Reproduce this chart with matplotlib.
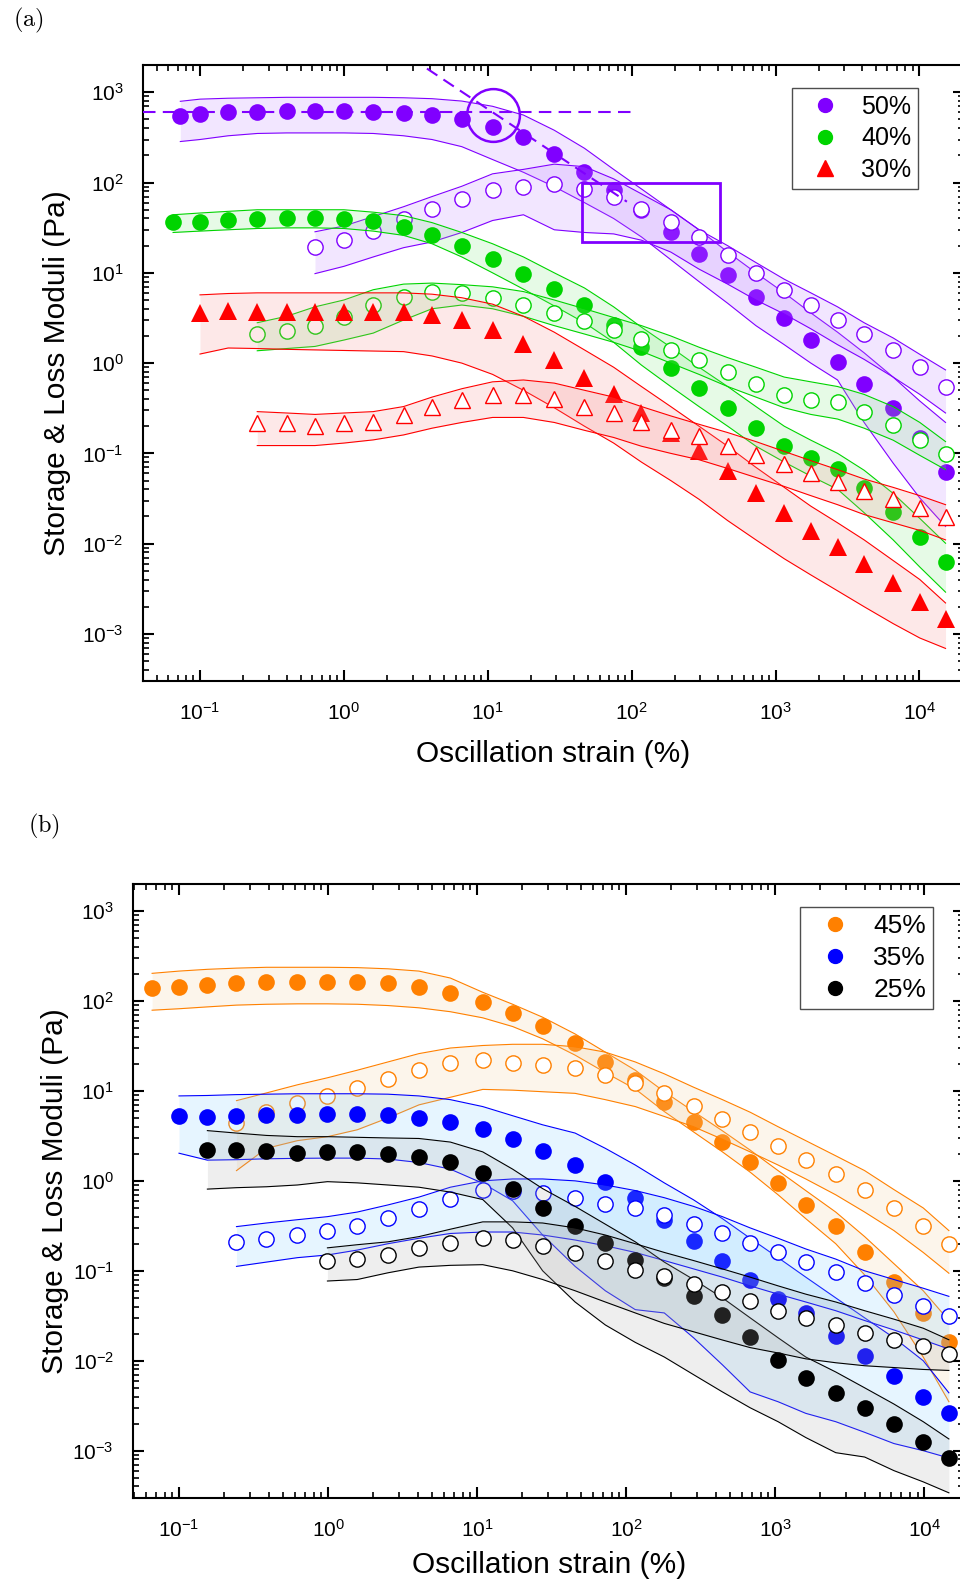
import numpy as np
import matplotlib
matplotlib.use('Agg')
import matplotlib.pyplot as plt
from matplotlib.ticker import LogLocator, FixedLocator, FuncFormatter, NullFormatter
from matplotlib.patches import Rectangle
from matplotlib.lines import Line2D

plt.rcParams['font.family'] = ['Liberation Sans', 'DejaVu Sans']
plt.rcParams['mathtext.fontset'] = 'custom'
plt.rcParams['mathtext.rm'] = 'Liberation Sans'
plt.rcParams['mathtext.it'] = 'Liberation Sans:italic'
plt.rcParams['mathtext.bf'] = 'Liberation Sans:bold'
plt.rcParams['mathtext.default'] = 'regular'

# ---- panel (a) data: strain grid (%) and moduli (Pa) ----
strain_a = [0.073, 0.1, 0.157, 0.25, 0.4, 0.63, 1.0, 1.6, 2.6, 4.1, 6.6, 10.8, 17.7, 29, 47, 75,
            117, 187, 294, 465, 731, 1150, 1760, 2700, 4130, 6570, 10070, 15200]
strain_a_40 = [0.065] + strain_a[1:]

g1_50 = [542, 576, 600, 606, 615, 615, 615, 606, 585, 556, 507, 413, 317, 209, 132, 81.8, 49.1,
         28.0, 16.3, 9.46, 5.39, 3.12, 1.81, 1.02, 0.59, 0.317, 0.147, 0.062]
g1_50_hi = [795, 840, 860, 870, 880, 880, 880, 880, 870, 850, 800, 700, 560, 380, 240, 140, 85,
            50, 30, 17, 10, 6.0, 3.6, 2.2, 1.3, 0.7, 0.38, 0.22]
g1_50_lo = [285, 300, 330, 350, 355, 355, 355, 350, 330, 300, 250, 180, 130, 90, 60, 40, 25,
            14, 8, 4.6, 2.6, 1.6, 1.0, 0.65, 0.22, 0.078, 0.032, 0.0155]
g2_50 = [19.3, 22.9, 28.8, 39.5, 51.4, 66.3, 82.0, 89.4, 96.4, 85.5, 68.5, 51.4, 36.6, 24.7,
         15.7, 9.95, 6.50, 4.40, 3.04, 2.11, 1.41, 0.894, 0.550]
g2_50_hi = [28.5, 33, 42, 54, 70, 91, 125, 140, 160, 150, 110, 75, 50, 30, 20, 13, 8.5, 6.0,
            4.2, 2.8, 1.9, 1.25, 0.84]
g2_50_lo = [9.8, 11.8, 15, 19, 22, 28, 38, 44, 30, 28, 27, 23, 17, 11, 7.5, 5.0, 3.5, 2.4, 1.6,
            1.1, 0.7, 0.45, 0.28]

g1_40 = [36.6, 36.6, 38.1, 39.5, 40.5, 40.5, 39.8, 37.2, 32.2, 26.4, 20.0, 14.2, 9.77, 6.66,
         4.35, 2.66, 1.50, 0.879, 0.532, 0.317, 0.193, 0.122, 0.0885, 0.0673, 0.0411, 0.0223,
         0.0119, 0.0063]
g1_40_hi = [44, 46, 48, 50, 50, 50, 50, 47, 43, 36, 28, 21, 15, 10, 6.8, 4.2, 2.5, 1.5, 0.9,
            0.55, 0.33, 0.2, 0.14, 0.1, 0.065, 0.036, 0.019, 0.0101]
g1_40_lo = [28, 29, 30, 31, 31.5, 31.5, 31, 29, 26, 21, 15, 10, 6.6, 4.3, 2.8, 1.7, 0.95, 0.55,
            0.33, 0.2, 0.12, 0.08, 0.056, 0.04, 0.022, 0.011, 0.0055, 0.0029]
g2_40 = [2.10, 2.24, 2.59, 3.24, 4.35, 5.34, 6.12, 5.97, 5.26, 4.35, 3.58, 2.89, 2.34, 1.85,
         1.40, 1.07, 0.795, 0.589, 0.445, 0.392, 0.366, 0.286, 0.207, 0.141, 0.0988]
g2_40_hi = [2.8, 3.3, 4.2, 5.0, 6.5, 7.5, 7.7, 7.4, 7.0, 6.2, 5.0, 4.0, 3.2, 2.6, 2.0, 1.5,
            1.15, 0.9, 0.7, 0.62, 0.55, 0.45, 0.33, 0.22, 0.135]
g2_40_lo = [1.37, 1.45, 1.53, 1.8, 2.15, 3.0, 4.0, 4.4, 4.0, 3.3, 2.6, 2.1, 1.7, 1.35, 1.0,
            0.75, 0.55, 0.42, 0.32, 0.27, 0.24, 0.19, 0.14, 0.095, 0.066]

g1_30 = [3.58, 3.73, 3.67, 3.67, 3.67, 3.67, 3.67, 3.67, 3.43, 2.97, 2.34, 1.64, 1.07, 0.682,
         0.451, 0.279, 0.168, 0.107, 0.064, 0.0362, 0.0221, 0.0139, 0.00927, 0.00596, 0.00364,
         0.00228, 0.00145]
g1_30_hi = [5.7, 5.9, 6.0, 6.0, 6.0, 6.0, 6.0, 6.0, 5.8, 5.3, 4.5, 3.3, 2.2, 1.4, 0.9, 0.55,
            0.33, 0.2, 0.12, 0.07, 0.042, 0.026, 0.017, 0.011, 0.0065, 0.004, 0.0022]
g1_30_lo = [1.26, 1.47, 1.45, 1.42, 1.4, 1.38, 1.36, 1.34, 1.2, 1.0, 0.75, 0.5, 0.32, 0.2, 0.13,
            0.08, 0.05, 0.031, 0.018, 0.011, 0.0068, 0.0045, 0.003, 0.002, 0.0013, 0.0009,
            0.00069]
g2_30 = [0.216, 0.216, 0.203, 0.216, 0.225, 0.267, 0.330, 0.392, 0.445, 0.445, 0.399, 0.330,
         0.279, 0.222, 0.182, 0.154, 0.122, 0.0962, 0.0765, 0.0603, 0.0479, 0.0384, 0.0310,
         0.0247, 0.0199]
g2_30_hi = [0.29, 0.28, 0.27, 0.28, 0.29, 0.33, 0.42, 0.52, 0.62, 0.65, 0.6, 0.5, 0.42, 0.33,
            0.26, 0.21, 0.17, 0.135, 0.105, 0.083, 0.066, 0.052, 0.042, 0.034, 0.027]
g2_30_lo = [0.122, 0.122, 0.122, 0.13, 0.141, 0.16, 0.19, 0.22, 0.25, 0.25, 0.22, 0.18, 0.15,
            0.12, 0.1, 0.085, 0.068, 0.054, 0.043, 0.034, 0.027, 0.021, 0.017, 0.014, 0.011]

# annotations in panel (a)
plateau_g0 = 606
plateau_end = 100
slope_x = [3.78, 92.7]
slope_y = [1833, 61.4]
yield_pt = (10.96, 559)
box_x = (44.9, 411)
box_y = (21.96, 99)

# ---- panel (b) data ----
strain_b = [0.066, 0.1, 0.155, 0.243, 0.386, 0.623, 0.99, 1.57, 2.52, 4.07, 6.61, 10.9, 17.3,
            27.5, 45.4, 72.4, 115, 180, 283, 442, 678, 1044, 1601, 2543, 3975, 6248, 9823, 14600]

g1_45 = [141, 142, 151, 157, 163, 163, 163, 163, 157, 142, 124, 98.1, 73.0, 52.7, 33.9, 20.8,
         13.3, 7.60, 4.56, 2.73, 1.61, 0.942, 0.541, 0.316, 0.160, 0.0760, 0.0339, 0.0160]
g1_45_hi = [203, 215, 225, 232, 237, 237, 237, 235, 228, 215, 180, 125, 92, 66, 43, 27, 17,
            9.8, 5.9, 3.6, 2.2, 1.3, 0.78, 0.45, 0.24, 0.12, 0.06, 0.028]
g1_45_lo = [79, 82, 86, 90, 92, 93, 93, 92, 89, 84, 76, 65, 52, 38, 25, 16, 10.5, 5.9, 3.5, 2.1,
            1.25, 0.7, 0.38, 0.2, 0.09, 0.035, 0.011, 0.0035]
g2_45 = [4.44, 5.89, 7.30, 8.80, 10.7, 13.5, 17.1, 20.3, 22.1, 20.6, 19.4, 17.9, 15.1, 12.2,
         9.42, 6.87, 4.89, 3.48, 2.45, 1.71, 1.20, 0.794, 0.497, 0.311, 0.200]
g2_45_hi = [7.8, 9.5, 11.7, 14, 17, 21, 26, 30, 32, 33, 33, 31, 27, 21, 15.5, 11, 8, 5.8, 4.0,
            2.8, 1.9, 1.3, 0.8, 0.5, 0.28]
g2_45_lo = [1.3, 2.3, 2.8, 3.1, 3.7, 5.0, 7.0, 8.5, 10.4, 10.2, 9.8, 9.4, 8.0, 6.7, 5.2, 4.0,
            2.9, 2.1, 1.5, 1.05, 0.7, 0.45, 0.28, 0.16, 0.094]

g1_35 = [5.32, 5.11, 5.28, 5.41, 5.41, 5.51, 5.55, 5.41, 5.05, 4.56, 3.78, 2.91, 2.15, 1.49,
         0.982, 0.643, 0.369, 0.216, 0.129, 0.0794, 0.0489, 0.0339, 0.0186, 0.0114, 0.0067,
         0.0040, 0.00262]
g1_35_hi = [8.8, 8.9, 9.1, 9.2, 9.3, 9.3, 9.3, 9.2, 8.8, 8.0, 6.7, 5.3, 4.2, 3.4, 2.3, 1.5,
            0.95, 0.615, 0.38, 0.23, 0.14, 0.085, 0.05, 0.03, 0.018, 0.01, 0.0044]
g1_35_lo = [2.03, 1.7, 1.72, 1.76, 1.78, 1.79, 1.79, 1.75, 1.6, 1.35, 0.94, 0.6, 0.25, 0.112,
            0.06, 0.037, 0.034, 0.018, 0.009, 0.0045, 0.0035, 0.0026, 0.0021, 0.0016, 0.0012,
            0.001, 0.00083]
g2_35 = [0.208, 0.227, 0.251, 0.280, 0.316, 0.385, 0.485, 0.631, 0.794, 0.78, 0.74, 0.65, 0.56,
         0.497, 0.419, 0.333, 0.262, 0.206, 0.161, 0.125, 0.0968, 0.0730, 0.0532, 0.0401,
         0.0318]
g2_35_hi = [0.31, 0.34, 0.37, 0.4, 0.45, 0.54, 0.66, 0.85, 1.0, 1.05, 1.05, 1.0, 0.9, 0.78,
            0.65, 0.52, 0.4, 0.3, 0.23, 0.175, 0.135, 0.1, 0.08, 0.064, 0.052]
g2_35_lo = [0.112, 0.125, 0.14, 0.15, 0.17, 0.2, 0.23, 0.26, 0.27, 0.27, 0.25, 0.22, 0.19, 0.16,
            0.13, 0.105, 0.085, 0.068, 0.055, 0.045, 0.036, 0.028, 0.022, 0.017, 0.0135]

g1_25 = [2.21, 2.21, 2.15, 2.06, 2.08, 2.08, 2.0, 1.83, 1.61, 1.22, 0.809, 0.497, 0.316, 0.206,
         0.132, 0.0836, 0.0518, 0.0324, 0.0183, 0.0101, 0.00642, 0.00438, 0.00298, 0.00200,
         0.00125, 0.00083]
g1_25_hi = [3.62, 3.4, 3.2, 3.1, 3.1, 3.05, 3.0, 2.96, 2.7, 2.1, 1.35, 0.82, 0.52, 0.33, 0.21,
            0.125, 0.08, 0.05, 0.03, 0.018, 0.011, 0.0075, 0.005, 0.0033, 0.0021, 0.00135]
g1_25_lo = [0.81, 0.84, 0.86, 0.9, 0.98, 0.95, 0.9, 0.85, 0.75, 0.62, 0.3, 0.1, 0.045, 0.025,
            0.016, 0.011, 0.007, 0.0045, 0.003, 0.0021, 0.0014, 0.00095, 0.00085, 0.0006,
            0.00045, 0.00034]
g2_25 = [0.129, 0.136, 0.151, 0.179, 0.206, 0.231, 0.221, 0.191, 0.157, 0.127, 0.103, 0.0865,
         0.0717, 0.0580, 0.0456, 0.0353, 0.0298, 0.0247, 0.0206, 0.0171, 0.0144, 0.0119]
g2_25_hi = [0.18, 0.195, 0.21, 0.24, 0.29, 0.35, 0.35, 0.34, 0.3, 0.25, 0.2, 0.16, 0.13, 0.105,
            0.085, 0.068, 0.055, 0.045, 0.036, 0.029, 0.023, 0.0171]
g2_25_lo = [0.077, 0.08, 0.095, 0.11, 0.115, 0.117, 0.1, 0.08, 0.06, 0.045, 0.034, 0.026, 0.021,
            0.017, 0.014, 0.0122, 0.0105, 0.0095, 0.0088, 0.0084, 0.008, 0.0078]

# labelled decades on both axes
x_decades = [0.1, 1, 10, 100, 1000, 10000]
y_decades = [0.001, 0.01, 0.1, 1, 10, 100, 1000]

PURPLE, GREEN, RED = '#8000ff', '#00d400', '#ff0000'
ORANGE, BLUE, BLACK = '#ff8000', '#0000ff', '#000000'


def band(ax, x, mid, lo, hi, color, fill, marker, hollow, z):
    x = x[-len(mid):]
    ax.fill_between(x, lo, hi, color=fill, alpha=0.2, lw=0, zorder=z)
    ax.plot(x, lo, color=color, lw=0.8, zorder=z + 0.1)
    ax.plot(x, hi, color=color, lw=0.8, zorder=z + 0.1)
    ms = 12 if marker == 'o' else 12.5
    if hollow:
        ax.plot(x, mid, ls='none', marker=marker, ms=ms - 1, mfc='white', mec=color, mew=1.0,
                zorder=z + 0.2)
    else:
        ax.plot(x, mid, ls='none', marker=marker, ms=ms, mfc=color, mec=color, mew=0,
                zorder=z + 0.2)


def style(ax, xlim, xlab_y, ylab_x):
    ax.set_xscale('log')
    ax.set_yscale('log')
    ax.set_xlim(*xlim)
    ax.set_ylim(3e-4, 2000)
    fmt = FuncFormatter(lambda v, p: r'$\mathdefault{10^{%d}}$' % round(np.log10(v)))
    ax.xaxis.set_major_locator(FixedLocator(x_decades))
    ax.yaxis.set_major_locator(FixedLocator(y_decades))
    for axis in (ax.xaxis, ax.yaxis):
        axis.set_minor_locator(LogLocator(base=10, subs=np.arange(2, 10), numticks=20))
        axis.set_minor_formatter(NullFormatter())
        axis.set_major_formatter(fmt)
    ax.tick_params(which='both', direction='in', top=True, right=True)
    ax.tick_params(which='major', length=8, width=1.5, labelsize=15)
    ax.tick_params(axis='x', which='major', pad=15)
    ax.tick_params(axis='y', which='major', pad=14)
    ax.tick_params(which='minor', length=4.5, width=1.2)
    for s in ax.spines.values():
        s.set_linewidth(1.5)
    ax.set_xlabel('Oscillation strain (%)', fontsize=21.5, va='center')
    ax.set_ylabel('Storage & Loss Moduli (Pa)', fontsize=21.5, va='center')
    ax.xaxis.set_label_coords(0.5, xlab_y)
    ax.yaxis.set_label_coords(ylab_x, 0.5)


def legend(ax, colors, markers, labels, anchor, fs):
    h = [Line2D([], [], ls='none', marker=m, ms=10 if m == 'o' else 11, color=c)
         for c, m in zip(colors, markers)]
    leg = ax.legend(h, labels, loc='upper right', bbox_to_anchor=anchor, fontsize=fs,
                    frameon=True, fancybox=False, borderaxespad=0, borderpad=0.26,
                    labelspacing=0.31, handlelength=2.1, handletextpad=0.4)
    leg.get_frame().set_edgecolor('#222222')
    leg.get_frame().set_linewidth(1.0)
    leg.set_zorder(20)


fig = plt.figure(figsize=(9.6, 15.85), dpi=100)

# ---------------- panel (a) ----------------
ax = fig.add_axes([0.149, 0.5703, 0.855, 0.3886])
style(ax, (0.0402, 20370), -0.1185, -0.1047)

band(ax, strain_a, g1_50, g1_50_lo, g1_50_hi, PURPLE, '#be82ff', 'o', False, 2)
band(ax, strain_a, g2_50, g2_50_lo, g2_50_hi, PURPLE, '#be82ff', 'o', True, 3)
band(ax, strain_a_40, g1_40, g1_40_lo, g1_40_hi, GREEN, '#82e682', 'o', False, 4)
band(ax, strain_a, g2_40, g2_40_lo, g2_40_hi, GREEN, '#82e682', 'o', True, 5)
band(ax, strain_a, g1_30, g1_30_lo, g1_30_hi, RED, '#f58c8c', '^', False, 6)
band(ax, strain_a, g2_30, g2_30_lo, g2_30_hi, RED, '#f58c8c', '^', True, 7)

ax.plot([0.0402, plateau_end], [plateau_g0, plateau_g0], color=PURPLE, lw=1.5,
        ls=(0, (6, 3.5)), zorder=8)
ax.plot(slope_x, slope_y, color=PURPLE, lw=1.5, ls=(0, (6, 3.5)), zorder=8)
ax.plot([yield_pt[0]], [yield_pt[1]], 'o', ms=38, mfc='none', mec=PURPLE, mew=1.8, zorder=8)
ax.add_patch(Rectangle((box_x[0], box_y[0]), box_x[1] - box_x[0], box_y[1] - box_y[0],
                       fill=False, ec=PURPLE, lw=2, zorder=8))

legend(ax, [PURPLE, GREEN, RED], ['o', 'o', '^'], ['50%', '40%', '30%'], (0.944, 0.9627), 18)

fig.text(0.0132, 0.9874, r'$\mathrm{(a)}$', fontsize=17.5, math_fontfamily='cm',
         ha='left', va='center')

# ---------------- panel (b) ----------------
ax = fig.add_axes([0.1389, 0.05508, 0.8653, 0.3872])
style(ax, (0.0494, 18450), -0.1095, -0.0943)

band(ax, strain_b, g1_45, g1_45_lo, g1_45_hi, ORANGE, '#f0cd9b', 'o', False, 2)
band(ax, strain_b, g2_45, g2_45_lo, g2_45_hi, ORANGE, '#f0cd9b', 'o', True, 3)
band(ax, strain_b, g1_35, g1_35_lo, g1_35_hi, BLUE, '#82cdff', 'o', False, 4)
band(ax, strain_b, g2_35, g2_35_lo, g2_35_hi, BLUE, '#82cdff', 'o', True, 5)
band(ax, strain_b, g1_25, g1_25_lo, g1_25_hi, BLACK, '#aaaaaa', 'o', False, 6)
band(ax, strain_b, g2_25, g2_25_lo, g2_25_hi, BLACK, '#aaaaaa', 'o', True, 7)

legend(ax, [ORANGE, BLUE, BLACK], ['o', 'o', 'o'], ['45%', '35%', '25%'], (0.9627, 0.9625), 19)

fig.text(0.0295, 0.4789, r'$\mathrm{(b)}$', fontsize=17.5, math_fontfamily='cm',
         ha='left', va='center')

fig.savefig('out.png', dpi=100)
